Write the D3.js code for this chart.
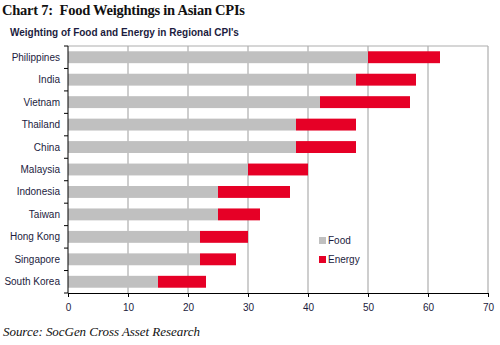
<!DOCTYPE html>
<html>
<head>
<meta charset="utf-8">
<script src="https://cdn.jsdelivr.net/npm/d3@7"></script>
<style>
  body { margin: 0; background: #fff; }
  svg { display: block; }
  text { white-space: pre; }
</style>
</head>
<body>
<div id="chart"></div>
<script>
// country order, top to bottom
var countries = ["Philippines", "India", "Vietnam", "Thailand", "China", "Malaysia",
                 "Indonesia", "Taiwan", "Hong Kong", "Singapore", "South Korea"];
// weights in CPI basket (%)
var food   = [50, 48, 42, 38, 38, 30, 25, 25, 22, 22, 15];
var energy = [12, 10, 15, 10, 10, 10, 12,  7,  8,  6,  8];
var xTicks = [0, 10, 20, 30, 40, 50, 60, 70];
var seriesNames = ["Food", "Energy"];
var colors = ["#c0c0c0", "#e60026"];

var W = 500, H = 345;
var margin = { top: 46, left: 68, bottom: 52, right: 12 };
var width = W - margin.left - margin.right;
var height = H - margin.top - margin.bottom;

var svg = d3.select("#chart").append("svg")
    .attr("width", W)
    .attr("height", H);

// headings
svg.append("text")
    .attr("x", 2)
    .attr("y", 14.5)
    .attr("font-family", "'Liberation Serif', 'Times New Roman', serif")
    .attr("font-weight", "bold")
    .attr("font-size", 14.5)
    .attr("fill", "#111")
    .attr("textLength", 243)
    .text("Chart 7:  Food Weightings in Asian CPIs");

svg.append("text")
    .attr("x", 10)
    .attr("y", 35.5)
    .attr("font-family", "'Liberation Sans', Arial, sans-serif")
    .attr("font-weight", "bold")
    .attr("font-size", 10)
    .attr("fill", "#1c1c40")
    .text("Weighting of Food and Energy in Regional CPI's");

svg.append("text")
    .attr("x", 3)
    .attr("y", 336)
    .attr("font-family", "'Liberation Serif', 'Times New Roman', serif")
    .attr("font-style", "italic")
    .attr("font-size", 13)
    .attr("fill", "#111")
    .attr("textLength", 197)
    .text("Source: SocGen Cross Asset Research");

var g = svg.append("g")
    .attr("transform", "translate(" + margin.left + "," + margin.top + ")");

var x = d3.scaleLinear().domain([0, 70]).range([0, width]);
var y = d3.scaleBand().domain(countries).range([0, height]).paddingInner(0.47).paddingOuter(0.235);
var yb = d3.scaleBand().domain(countries).range([0, height]);

// gridlines + frame
g.selectAll(".grid")
    .data(xTicks.slice(1))
    .enter().append("line")
    .attr("x1", function(d) { return x(d); })
    .attr("x2", function(d) { return x(d); })
    .attr("y1", 0)
    .attr("y2", height)
    .attr("stroke", "#adadad")
    .attr("stroke-width", 1.2);

g.append("line")
    .attr("x1", 0).attr("x2", width)
    .attr("y1", 0).attr("y2", 0)
    .attr("stroke", "#adadad")
    .attr("stroke-width", 1.2);

// stacked bars
var rows = countries.map(function(c, i) { return { country: c, Food: food[i], Energy: energy[i] }; });
var stack = d3.stack().keys(seriesNames)(rows);

g.selectAll(".series")
    .data(stack)
    .enter().append("g")
    .attr("fill", function(d, i) { return colors[i]; })
    .selectAll("rect")
    .data(function(d) { return d; })
    .enter().append("rect")
    .attr("x", function(d) { return x(d[0]); })
    .attr("y", function(d) { return y(d.data.country); })
    .attr("width", function(d) { return x(d[1]) - x(d[0]); })
    .attr("height", y.bandwidth());

// left axis: ticks sit between categories
var yAxis = g.append("g");
yAxis.append("line")
    .attr("x1", 0).attr("x2", 0)
    .attr("y1", 0).attr("y2", height)
    .attr("stroke", "#000");
yAxis.selectAll(".tick")
    .data(d3.range(countries.length + 1))
    .enter().append("line")
    .attr("x1", -4).attr("x2", 0)
    .attr("y1", function(i) { return i * yb.step(); })
    .attr("y2", function(i) { return i * yb.step(); })
    .attr("stroke", "#000");
yAxis.selectAll(".lbl")
    .data(countries)
    .enter().append("text")
    .attr("x", -8)
    .attr("y", function(d) { return yb(d) + yb.bandwidth() / 2; })
    .attr("dy", "0.35em")
    .attr("text-anchor", "end")
    .attr("font-family", "'Liberation Sans', Arial, sans-serif")
    .attr("font-size", 10)
    .attr("fill", "#1c1c40")
    .text(function(d) { return d; });

// bottom axis
var xAxis = g.append("g")
    .attr("transform", "translate(0," + height + ")")
    .call(d3.axisBottom(x).tickValues(xTicks).tickSize(4).tickSizeOuter(0));
xAxis.select(".domain").attr("stroke", "#000");
xAxis.selectAll(".tick line").attr("stroke", "#000");
xAxis.selectAll(".tick text")
    .attr("y", 11)
    .attr("font-family", "'Liberation Sans', Arial, sans-serif")
    .attr("font-size", 10)
    .attr("fill", "#1c1c40");

// legend
var legend = g.selectAll(".legend")
    .data(seriesNames)
    .enter().append("g")
    .attr("transform", function(d, i) { return "translate(" + (319 - margin.left) + "," + (237 + i * 19 - margin.top) + ")"; });
legend.append("rect")
    .attr("width", 7)
    .attr("height", 7)
    .attr("fill", function(d, i) { return colors[i]; });
legend.append("text")
    .attr("x", 9)
    .attr("y", 3.5)
    .attr("dy", "0.35em")
    .attr("font-family", "'Liberation Sans', Arial, sans-serif")
    .attr("font-size", 10)
    .attr("fill", "#1c1c40")
    .text(function(d) { return d; });
</script>
</body>
</html>
